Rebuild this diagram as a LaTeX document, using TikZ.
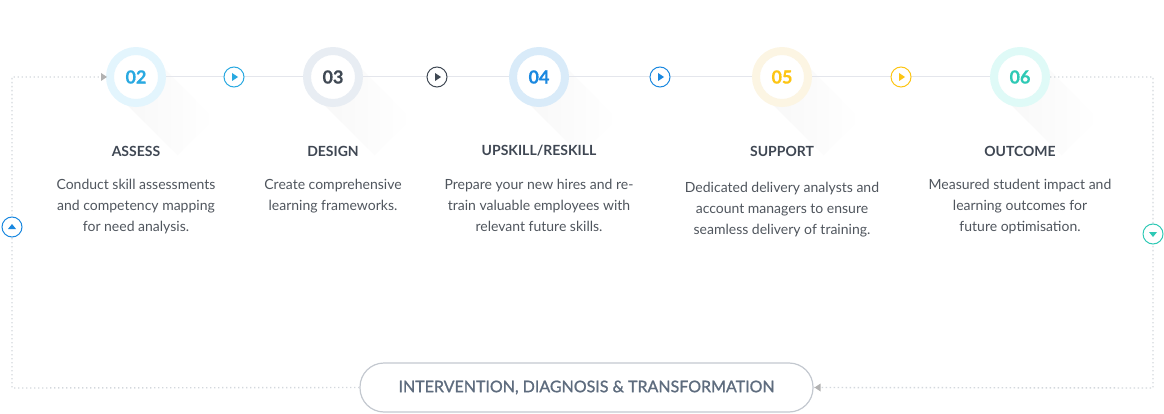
\documentclass[tikz,border=0pt]{standalone}
\usepackage{fontspec}
\setmainfont{Lato}
\usetikzlibrary{positioning}
\definecolor{cA}{HTML}{29A9E1}\definecolor{rA}{HTML}{E3F5FD}
\definecolor{cB}{HTML}{404954}\definecolor{rB}{HTML}{E8EDF3}
\definecolor{cC}{HTML}{1A88E0}\definecolor{rC}{HTML}{D9EBF9}
\definecolor{cD}{HTML}{FDC513}\definecolor{rD}{HTML}{FCF5E3}
\definecolor{cE}{HTML}{2EC9B5}\definecolor{rE}{HTML}{DFFAF7}
\definecolor{txt}{HTML}{4F555D}
\definecolor{ttl}{HTML}{3F4753}
\definecolor{lne}{HTML}{E4E6EC}
\definecolor{dots}{HTML}{D3D7DC}
\definecolor{pill}{HTML}{C3C8CF}
\definecolor{pilltxt}{HTML}{5E6C7E}
\begin{document}
\begin{tikzpicture}[x=1pt,y=-1pt,>=stealth,
stepnum/.style={circle,minimum size=52pt,inner sep=0pt,line width=8pt,fill=white,font=\bfseries\fontsize{18}{18}\selectfont\addfontfeature{FakeBold=0.6}},
play/.style={circle,minimum size=20pt,inner sep=0pt,line width=1pt,fill=white},
ttlnode/.style={font=\bfseries\fontsize{14}{14}\selectfont,text=ttl},
descnode/.style={anchor=north,align=center,text=txt,font=\fontsize{14}{21}\selectfont},
loopline/.style={dots,line width=1.4pt,dash pattern=on 1.4pt off 2.6pt}]
\useasboundingbox (0,0) rectangle (1164,414);
% soft shadows
\foreach \x in {136,333,539,782,1020}
  \shade[rotate around={-45:(\x,77)},left color=black!3,right color=white] (\x,51) rectangle (\x+85,103);
% main line
\draw[lne,line width=1pt] (136,77) -- (1020,77);
% step circles
\node[stepnum,draw=rA,text=cA] (s02) at (136,77) {02};
\node[stepnum,draw=rB,text=cB] (s03) at (333,77) {03};
\node[stepnum,draw=rC,text=cC] (s04) at (539,77) {04};
\node[stepnum,draw=rD,text=cD] (s05) at (782,77) {05};
\node[stepnum,draw=rE,text=cE] (s06) at (1020,77) {06};
% arrows between steps
\node[play,draw=cA] (p1) at (234,77) {};
\node[play,draw=cB] (p2) at (437,77) {};
\node[play,draw=cC] (p3) at (660,77) {};
\node[play,draw=cD] (p4) at (901,77) {};
\foreach \p/\c in {p1/cA,p2/cB,p3/cC,p4/cD}
  \fill[\c] (\p.center) ++(-2,-4) -- ++(6,4) -- ++(-6,4) -- cycle;
% titles
\node[ttlnode] (t02) at (136,151) {ASSESS};
\node[ttlnode] (t03) at (333,151) {DESIGN};
\node[ttlnode] (t04) at (539,151) {UPSKILL/RESKILL};
\node[ttlnode] (t05) at (782,151) {SUPPORT};
\node[ttlnode] (t06) at (1020,151) {OUTCOME};
% descriptions
\node[descnode] (d02) at (136,176) {Conduct skill assessments\\and competency mapping\\for need analysis.};
\node[descnode] (d03) at (333,176) {Create comprehensive\\learning frameworks.};
\node[descnode] (d04) at (539,176) {Prepare your new hires and re-\\train valuable employees with\\relevant future skills.};
\node[descnode] (d05) at (782,179) {Dedicated delivery analysts and\\account managers to ensure\\seamless delivery of training.};
\node[descnode] (d06) at (1020,176) {Measured student impact and\\learning outcomes for\\future optimisation.};
% bottom pill
\node[draw=pill,line width=1.2pt,rounded corners=24pt,minimum width=453pt,minimum height=49pt,text=pilltxt,font=\fontsize{16}{16}\selectfont\addfontfeature{FakeBold=1.2}] (loop) at (586.5,387.5) {INTERVENTION, DIAGNOSIS \& TRANSFORMATION};
% feedback loop
\coordinate (lt) at (12,77);
\coordinate (lb) at (12,388);
\coordinate (rt) at (1153,77);
\coordinate (rb) at (1153,388);
\coordinate (ain) at (101,77);
\draw[loopline] (loop.west) -- (lb) -- (lt) -- (ain);
\draw[loopline] (s06.east) -- (rt) -- (rb) -- (loop.east);
\fill[black!30] (ain) ++(0,-4) -- ++(6,4) -- ++(-6,4) -- cycle;
\fill[black!30] (loop.east) ++(7,-4) -- ++(-6,4) -- ++(6,4) -- cycle;
% up / down markers
\node[play,draw=cC] (up) at (12,227) {};
\node[play,draw=cE] (down) at (1153,234) {};
\fill[cC] (up.center) ++(-4,2) -- ++(4,-5) -- ++(4,5) -- cycle;
\fill[cE] (down.center) ++(-4,-2) -- ++(4,5) -- ++(4,-5) -- cycle;
\end{tikzpicture}
\end{document}
